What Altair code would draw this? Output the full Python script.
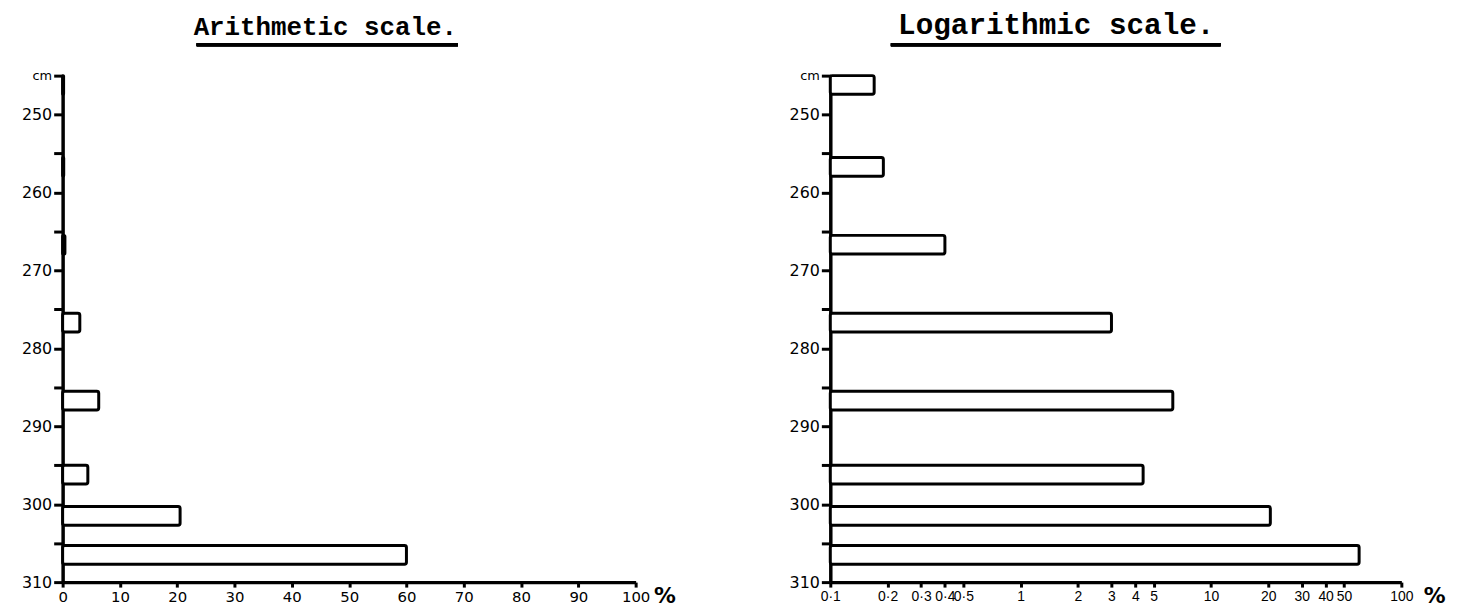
import altair as alt
import pandas as pd

# ---- data ----
depth_top = [245.0, 255.5, 265.5, 275.5, 285.5, 295.0, 300.3, 305.3]
depth_bottom = [247.4, 257.9, 267.9, 277.9, 287.9, 297.4, 302.7, 307.7]
percent = [0.17, 0.19, 0.4, 3.0, 6.3, 4.4, 20.5, 60.0]

y_ticks = [245, 250, 255, 260, 265, 270, 275, 280, 285, 290, 295, 300, 305, 310]
x_ticks_arith = [0, 10, 20, 30, 40, 50, 60, 70, 80, 90, 100]
x_ticks_log = [0.1, 0.2, 0.3, 0.4, 0.5, 1, 2, 3, 4, 5, 10, 20, 30, 40, 50, 100]

df = pd.DataFrame({
    "top": depth_top,
    "bottom": depth_bottom,
    "percent": percent,
    "zero": [0.0] * len(percent),
    "base": [0.1] * len(percent),
})

W1, W2, H = 577, 575, 510
LABEL_FONT = "DejaVu Sans"
TITLE_FONT = "Liberation Mono"

y_axis = alt.Axis(
    values=y_ticks,
    labelExpr="datum.value == 245 ? 'cm' : (datum.value % 10 == 0 ? datum.label : '')",
    labelFontSize={"condition": {"test": "datum.value == 245", "value": 13}, "value": 16},
    labelFlush=False,
    labelPadding=2,
    tickSize=9,
    title=None,
    grid=False,
)
y_enc = alt.Y(
    "top:Q",
    scale=alt.Scale(domain=[245, 310], reverse=True, nice=False, zero=False),
    axis=y_axis,
)

bar_style = dict(fill="white", stroke="black", strokeWidth=3, cornerRadius=2)


def x_axis(values, expr, title_x, font, size):
    return alt.Axis(
        values=values,
        labelExpr=expr,
        labelOverlap=False,
        labelFlush=False,
        labelFont=font,
        labelFontSize=size,
        labelPadding=3,
        tickSize=5,
        grid=False,
        title="%",
        titleAngle=0,
        titleX=title_x,
        titleY=14,
        titleAlign="left",
        titleBaseline="middle",
        titleFontSize=22,
        titleFont=LABEL_FONT,
        titleFontWeight="bold",
    )


left_bars = alt.Chart(df).mark_bar(**bar_style).encode(
    x=alt.X(
        "percent:Q",
        scale=alt.Scale(domain=[0, 100], nice=False, zero=True),
        axis=x_axis(x_ticks_arith, "datum.label", W1 + 18, LABEL_FONT, 15),
    ),
    x2="zero:Q",
    y=y_enc,
    y2="bottom:Q",
)
left_line = alt.Chart(df).mark_rule(color="black", strokeWidth=3).encode(
    x=alt.value(135), x2=alt.value(398), y=alt.value(-31)
)
left = alt.layer(left_bars, left_line).properties(
    width=W1,
    height=H,
    title=alt.TitleParams(
        "Arithmetic scale.", font=TITLE_FONT, fontSize=26, fontWeight="bold",
        color="black", anchor="middle", dx=-24, offset=3,
    ),
)

right_bars = alt.Chart(df).mark_bar(**bar_style).encode(
    x=alt.X(
        "percent:Q",
        scale=alt.Scale(type="log", domain=[0.1, 100], nice=False),
        axis=x_axis(x_ticks_log, "replace(format(datum.value, '~g'), '.', '·')",
                    W2 + 22, "Liberation Sans", 14),
    ),
    x2="base:Q",
    y=y_enc,
    y2="bottom:Q",
)
right_line = alt.Chart(df).mark_rule(color="black", strokeWidth=3).encode(
    x=alt.value(61), x2=alt.value(393), y=alt.value(-31)
)
right = alt.layer(right_bars, right_line).properties(
    width=W2,
    height=H,
    title=alt.TitleParams(
        "Logarithmic scale.", font=TITLE_FONT, fontSize=29.5, fontWeight="bold",
        color="black", anchor="middle", dx=-60, offset=3,
    ),
)

chart = (
    alt.hconcat(left, right, spacing=113)
    .properties(
        background="white",
        padding={"left": 13, "top": 0, "right": 5, "bottom": 5},
    )
    .configure_view(stroke=None)
    .configure_axis(
        domainColor="black",
        domainWidth=3.5,
        tickColor="black",
        tickWidth=3,
        labelColor="black",
        labelFont=LABEL_FONT,
        titleColor="black",
    )
)

chart.save("out.html", embed_options={"renderer": "svg", "actions": False})
